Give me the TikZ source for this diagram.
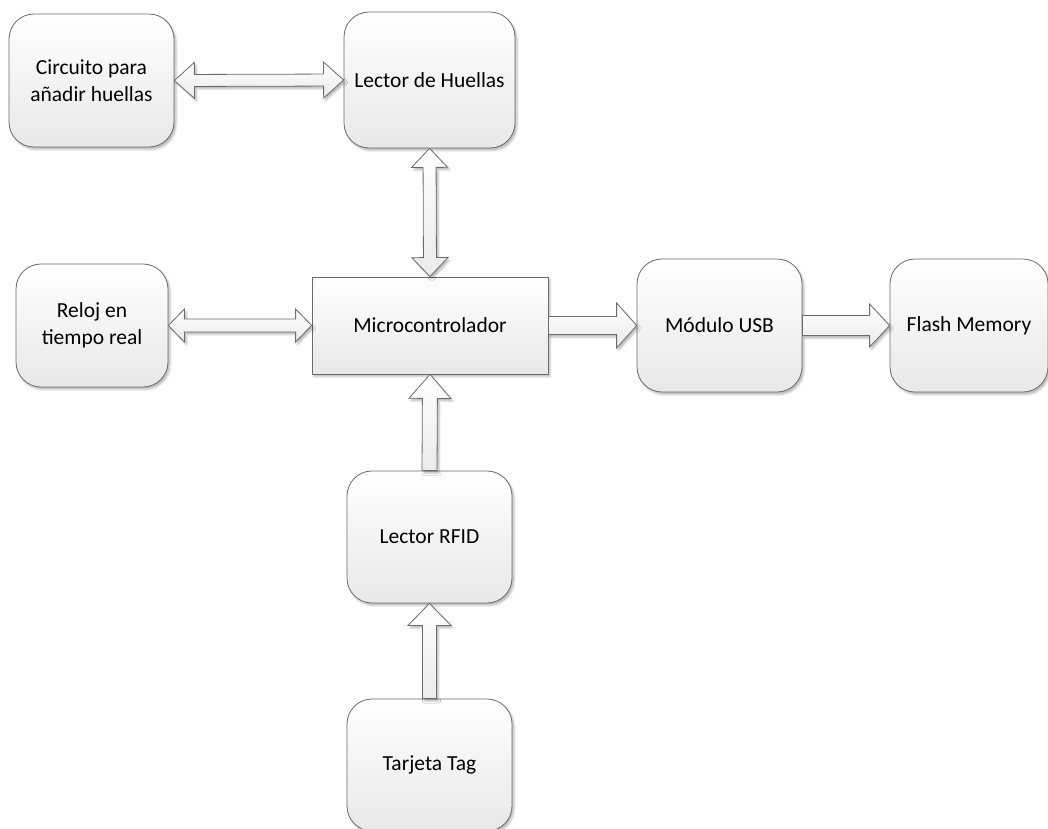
\documentclass[tikz,border=0pt]{standalone}
\usepackage{fontspec}
\setmainfont{Carlito}
\usetikzlibrary{calc,shadows.blur}

% Fat block arrows between two points: head length, half head width, half shaft width
\newcommand\onearrow[5]{%
  \path ($(#2)!#3!(#1)$) coordinate (hb);
  \draw[fatarrow] ($(#1)!#5!90:(#2)$) -- ($(hb)!#5!90:(#2)$) -- ($(hb)!#4!90:(#2)$)
    -- (#2) -- ($(hb)!#4!-90:(#2)$) -- ($(hb)!#5!-90:(#2)$) -- ($(#1)!#5!-90:(#2)$) -- cycle;}
\newcommand\twoarrow[5]{%
  \path ($(#2)!#3!(#1)$) coordinate (hb) ($(#1)!#3!(#2)$) coordinate (tb);
  \draw[fatarrow] ($(tb)!#5!90:(#2)$) -- ($(hb)!#5!90:(#2)$) -- ($(hb)!#4!90:(#2)$)
    -- (#2) -- ($(hb)!#4!-90:(#2)$) -- ($(hb)!#5!-90:(#2)$) -- ($(tb)!#5!-90:(#2)$)
    -- ($(tb)!#4!-90:(#2)$) -- (#1) -- ($(tb)!#4!90:(#2)$) -- cycle;}

\tikzset{
  softshadow/.style={blur shadow={shadow xshift=2pt, shadow yshift=-2.5pt,
      shadow blur radius=2pt, shadow opacity=28}},
  block/.style={draw=black!58, line width=0.8pt, top color=white, bottom color=black!9,
      softshadow, align=center, inner sep=0pt, font=\fontsize{21.5}{27}\selectfont},
  rblock/.style={block, rounded corners=25pt},
  fatarrow/.style={draw=black!58, line width=0.8pt, top color=white, bottom color=black!8,
      softshadow, line join=miter},
}

\begin{document}
\begin{tikzpicture}[x=1pt, y=-1pt]
\useasboundingbox (0,0) rectangle (1048,828);

% blocks
\node[rblock, minimum width=165pt, minimum height=133pt] (circ) at (91.5,80.5) {Circuito para\\añadir huellas};
\node[rblock, minimum width=171pt, minimum height=136pt] (huellas) at (429.5,80) {Lector de Huellas};
\node[rblock, minimum width=152pt, minimum height=123pt] (reloj) at (92,325.5) {Reloj en\\tiempo real};
\node[block, minimum width=236pt, minimum height=97pt] (micro) at (430,325.5) {Microcontrolador};
\node[rblock, minimum width=165pt, minimum height=133pt] (usb) at (719.5,325.5) {Módulo USB};
\node[rblock, minimum width=158pt, minimum height=133pt] (flash) at (969,325.5) {Flash Memory};
\node[rblock, minimum width=165pt, minimum height=132pt] (rfid) at (429.5,537) {Lector RFID};
\node[rblock, minimum width=165pt, minimum height=132pt] (tag) at (429.5,765) {Tarjeta Tag};

% connectors
\twoarrow{circ.east}{huellas.west}{20pt}{18pt}{6pt}
\twoarrow{huellas.south}{micro.north}{19pt}{18pt}{6.5pt}
\twoarrow{reloj.east}{micro.west}{16pt}{16.5pt}{6.5pt}
\onearrow{micro.east}{usb.west}{20pt}{22.5pt}{9pt}
\onearrow{usb.east}{flash.west}{20pt}{21.5pt}{10pt}
\onearrow{rfid.north}{micro.south}{24pt}{21pt}{7.5pt}
\onearrow{tag.north}{rfid.south}{22pt}{21.5pt}{7pt}
\end{tikzpicture}
\end{document}
